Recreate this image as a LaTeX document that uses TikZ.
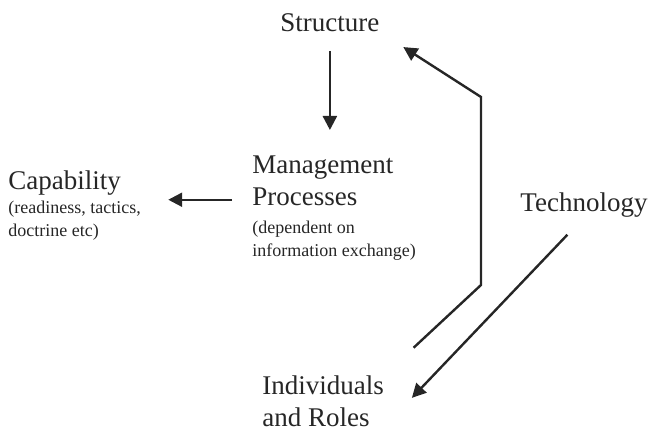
\documentclass[tikz,border=0pt]{standalone}
\usepackage{fontspec}
\setmainfont{Liberation Serif}
\usepackage{tikz}
\usetikzlibrary{arrows.meta}

\begin{document}
\begin{tikzpicture}[
                x=0.5pt, y=-0.5pt,
                every node/.style={inner sep=0pt, anchor=north west, align=left, text=black!85},
                title/.style={font=\fontsize{13.5}{16}\selectfont},
                note/.style={font=\fontsize{9}{11.5}\selectfont},
                link/.style={-{Triangle[length=7pt,width=7pt]}, line width=1.2pt, draw=black!85}]
            \useasboundingbox (0,0) rectangle (651,431);
            \node[title] (struct) at (280,13) {Structure};
            \node[title] (mgmt) at (252,155) {Management\\Processes};
            \node[note] (mgmtnote) at (252,221) {(dependent on\\information exchange)};
            \node[title] (cap) at (8,170) {Capability};
            \node[note] (capnote) at (8,201) {(readiness, tactics,\\doctrine etc)};
            \node[title] (tech) at (520,192) {Technology};
            \node[title] (roles) at (262,375) {Individuals\\and Roles};
            \coordinate (bend1) at (481,285);
            \coordinate (bend2) at (481,97);
            \draw[link, shorten <=9.5pt, shorten >=12.5pt] (struct.south) -- (struct.south |- mgmt.north);
            \draw[link, shorten <=10pt, shorten >=13.5pt] ([yshift=3pt]mgmt.south west) -- ([yshift=3pt]mgmt.south west -| capnote.east);
            \draw[link, shorten <=20pt, shorten >=14pt] (roles.north east) -- (bend1) -- (bend2) -- (struct.south east);
            \draw[link, shorten <=12pt, shorten >=20pt] (tech.south) -- (roles.south east);
\end{tikzpicture}
\end{document}
